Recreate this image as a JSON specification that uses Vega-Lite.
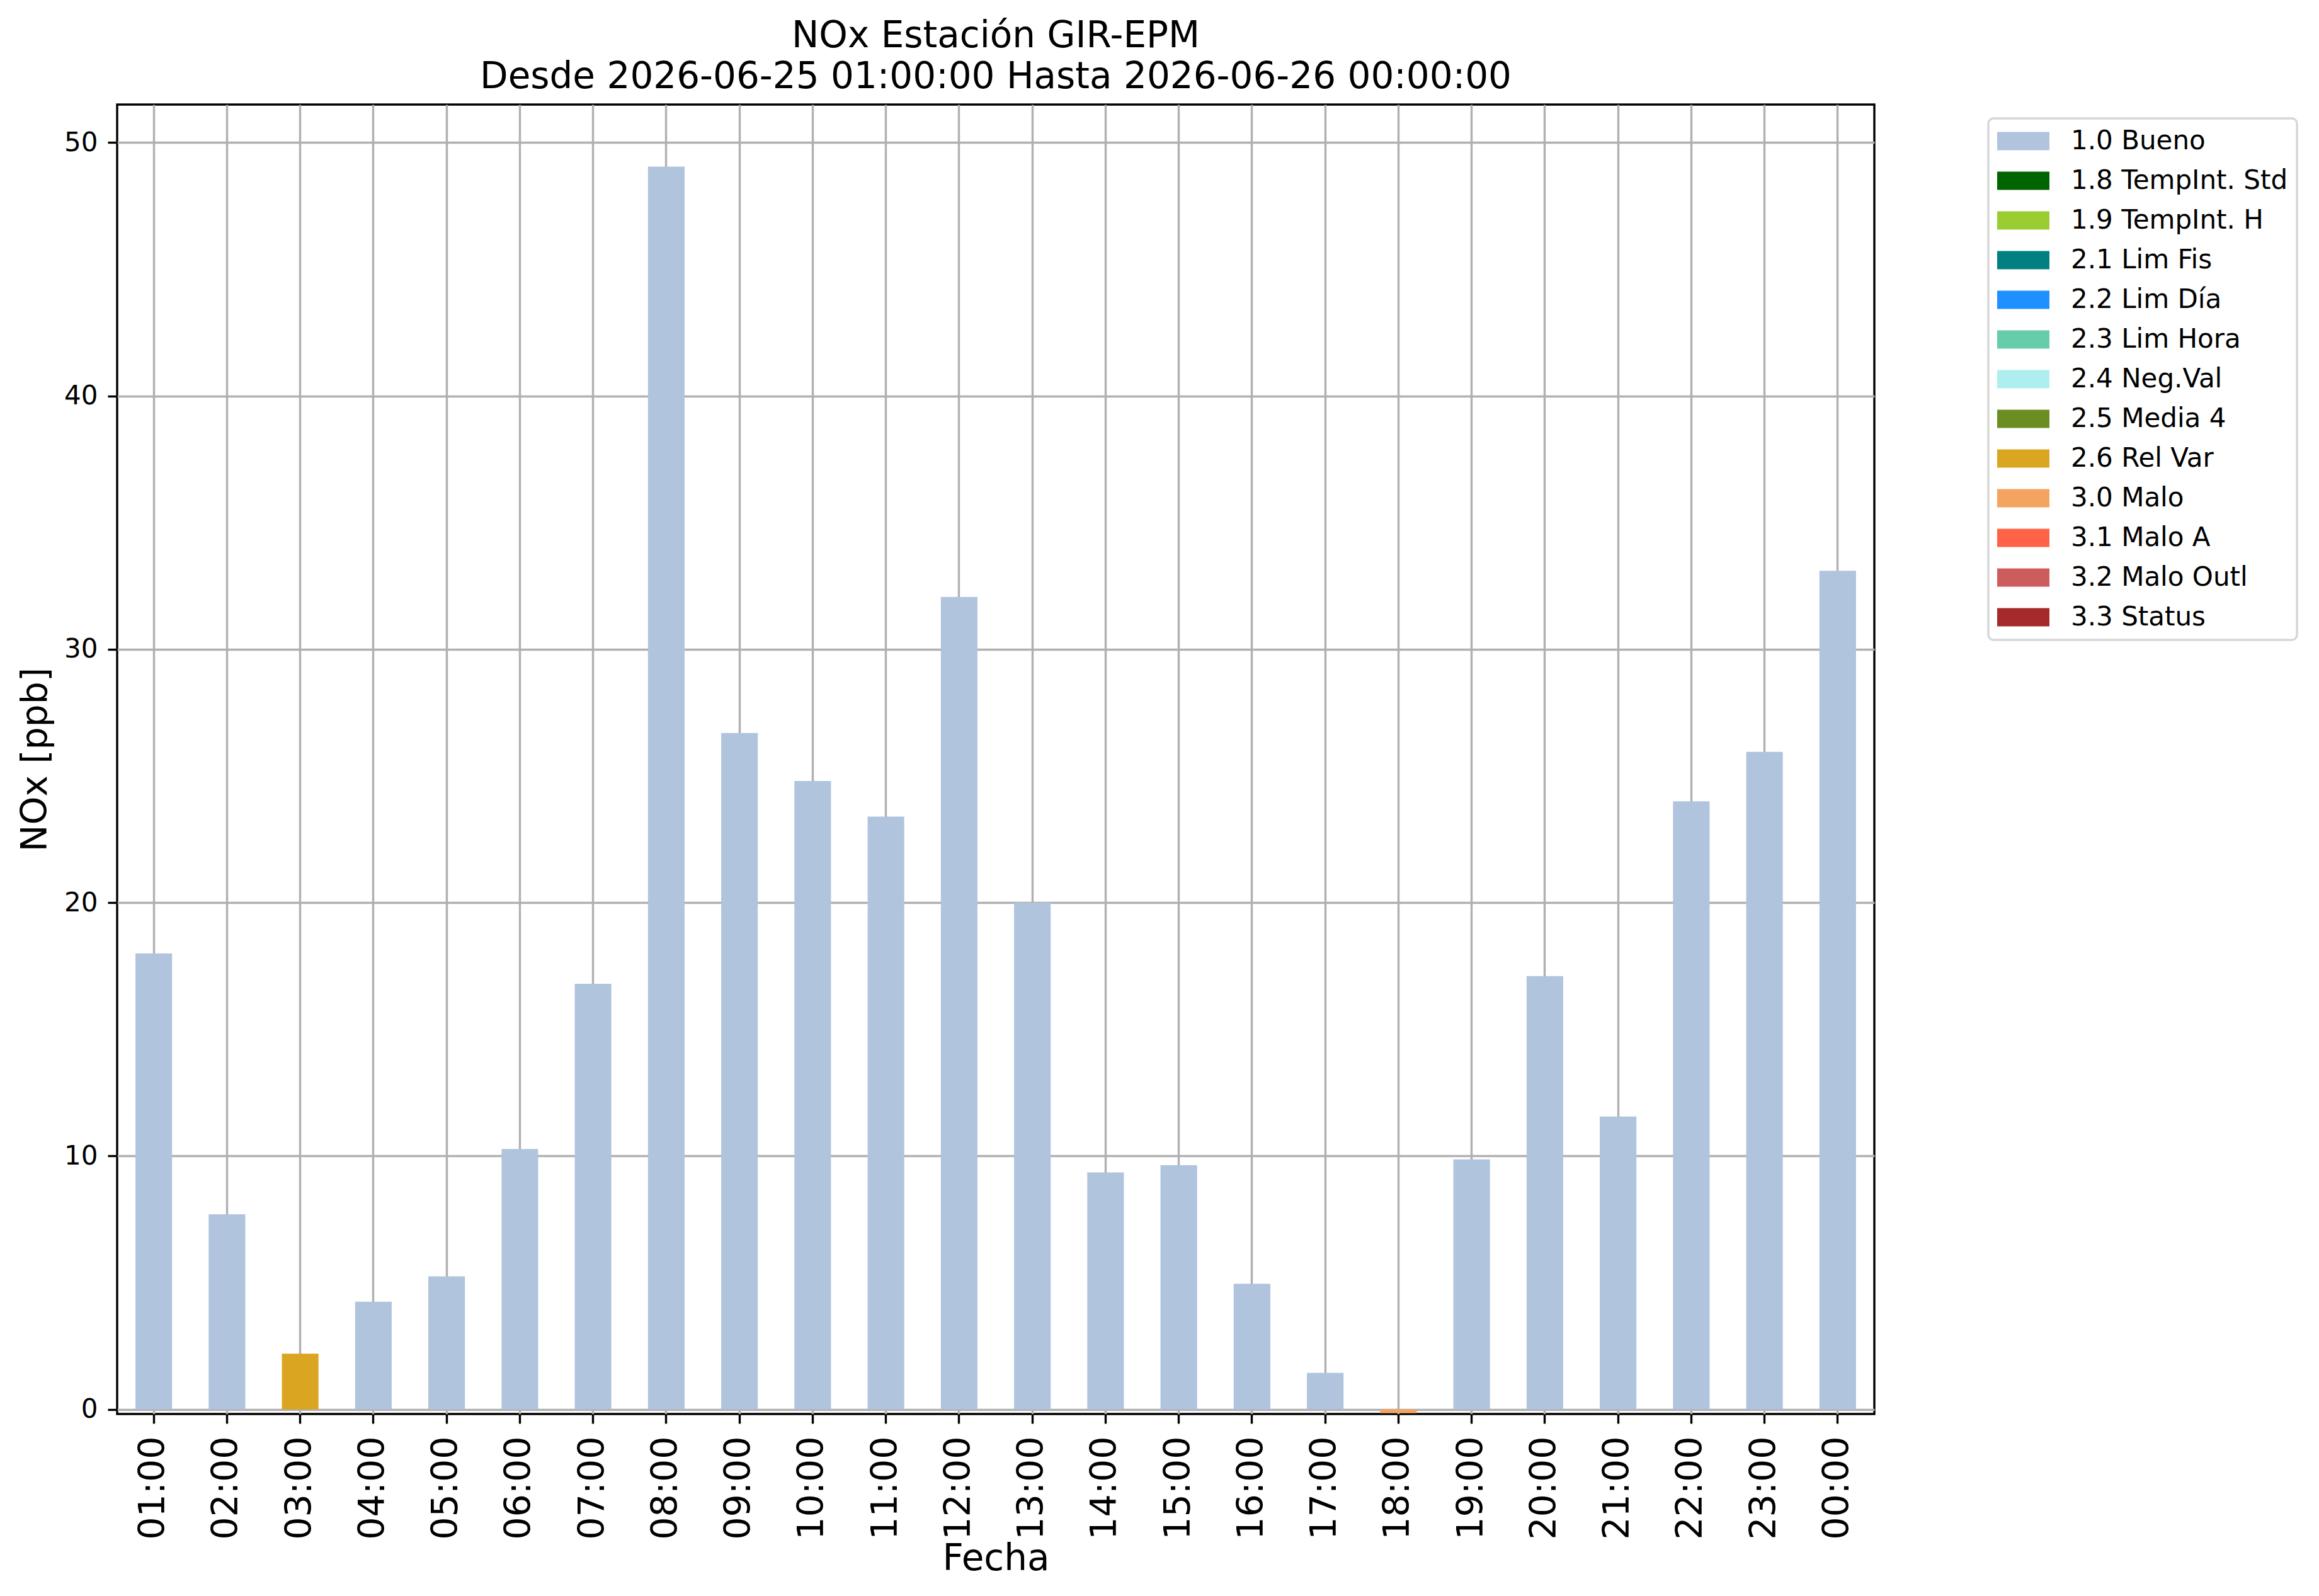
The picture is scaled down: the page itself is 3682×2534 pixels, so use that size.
{
  "$schema": "https://vega.github.io/schema/vega-lite/v6.json",
  "autosize": {"type": "none"},
  "width": 2790,
  "height": 2079,
  "padding": {"left": 186, "top": 166, "right": 706, "bottom": 289},
  "background": "white",
  "title": {
    "text": ["NOx Estación GIR-EPM", "Desde 2026-06-25 01:00:00 Hasta 2026-06-26 00:00:00"],
    "font": "DejaVu Sans",
    "fontSize": 58,
    "fontWeight": "normal",
    "color": "black",
    "lineHeight": 65,
    "offset": 14,
    "anchor": "middle",
    "frame": "group"
  },
  "data": {
    "values": [
      {"hora": "01:00", "nox": 18.0, "flag": "1.0 Bueno"},
      {"hora": "02:00", "nox": 7.7, "flag": "1.0 Bueno"},
      {"hora": "03:00", "nox": 2.2, "flag": "2.6 Rel Var"},
      {"hora": "04:00", "nox": 4.25, "flag": "1.0 Bueno"},
      {"hora": "05:00", "nox": 5.25, "flag": "1.0 Bueno"},
      {"hora": "06:00", "nox": 10.28, "flag": "1.0 Bueno"},
      {"hora": "07:00", "nox": 16.8, "flag": "1.0 Bueno"},
      {"hora": "08:00", "nox": 49.05, "flag": "1.0 Bueno"},
      {"hora": "09:00", "nox": 26.7, "flag": "1.0 Bueno"},
      {"hora": "10:00", "nox": 24.8, "flag": "1.0 Bueno"},
      {"hora": "11:00", "nox": 23.4, "flag": "1.0 Bueno"},
      {"hora": "12:00", "nox": 32.07, "flag": "1.0 Bueno"},
      {"hora": "13:00", "nox": 20.0, "flag": "1.0 Bueno"},
      {"hora": "14:00", "nox": 9.35, "flag": "1.0 Bueno"},
      {"hora": "15:00", "nox": 9.64, "flag": "1.0 Bueno"},
      {"hora": "16:00", "nox": 4.96, "flag": "1.0 Bueno"},
      {"hora": "17:00", "nox": 1.44, "flag": "1.0 Bueno"},
      {"hora": "18:00", "nox": -0.15, "flag": "3.0 Malo"},
      {"hora": "19:00", "nox": 9.87, "flag": "1.0 Bueno"},
      {"hora": "20:00", "nox": 17.1, "flag": "1.0 Bueno"},
      {"hora": "21:00", "nox": 11.56, "flag": "1.0 Bueno"},
      {"hora": "22:00", "nox": 24.0, "flag": "1.0 Bueno"},
      {"hora": "23:00", "nox": 25.95, "flag": "1.0 Bueno"},
      {"hora": "00:00", "nox": 33.1, "flag": "1.0 Bueno"}
    ]
  },
  "mark": {"type": "bar"},
  "encoding": {
    "x": {
      "field": "hora",
      "type": "ordinal",
      "sort": null,
      "title": "Fecha",
      "scale": {"paddingInner": 0.5, "paddingOuter": 0.25},
      "axis": {
        "grid": true,
        "bandPosition": 0.5,
        "labelAngle": -90,
        "labelAlign": "right",
        "labelBaseline": "middle",
        "labelFontSize": 57,
        "labelPadding": 20,
        "titleFontSize": 58,
        "titleBaseline": "alphabetic",
        "titleY": 247
      }
    },
    "y": {
      "field": "nox",
      "type": "quantitative",
      "title": "NOx [ppb]",
      "scale": {"domain": [-0.18, 51.5], "nice": false, "zero": false},
      "axis": {
        "values": [0, 10, 20, 30, 40, 50],
        "format": "d",
        "labelFontSize": 42,
        "labelPadding": 16,
        "titleFontSize": 57,
        "titleAngle": -90,
        "titleBaseline": "alphabetic",
        "titleX": -113,
        "titleY": 1039.5
      }
    },
    "color": {
      "field": "flag",
      "type": "nominal",
      "scale": {
        "domain": ["1.0 Bueno", "1.8 TempInt. Std", "1.9 TempInt. H", "2.1 Lim Fis", "2.2 Lim Día", "2.3 Lim Hora", "2.4 Neg.Val", "2.5 Media 4", "2.6 Rel Var", "3.0 Malo", "3.1 Malo A", "3.2 Malo Outl", "3.3 Status"],
        "range": ["#b0c4de", "#006400", "#9acd32", "#008080", "#1e90ff", "#66cdaa", "#afeeee", "#6b8e23", "#daa520", "#f4a460", "#ff6347", "#cd5c5c", "#a52a2a"]
      },
      "legend": {
        "title": null,
        "orient": "none",
        "legendX": 2971,
        "legendY": 22,
        "symbolType": "M-1,-0.35H1V0.35H-1Z",
        "symbolSize": 6889,
        "symbolStrokeWidth": 0,
        "labelFontSize": 42,
        "labelFont": "DejaVu Sans",
        "labelColor": "black",
        "labelLimit": 1000,
        "labelOffset": 34,
        "clipHeight": 44,
        "rowPadding": 19,
        "padding": 14,
        "strokeColor": "#d6d6d6",
        "cornerRadius": 8,
        "fillColor": "white"
      }
    }
  },
  "config": {
    "font": "DejaVu Sans",
    "view": {"stroke": "black", "strokeWidth": 3.4},
    "legend": {"strokeWidth": 3.4},
    "axis": {
      "domain": false,
      "zindex": 1,
      "gridColor": "#b0b0b0",
      "gridWidth": 3.4,
      "gridOpacity": 1,
      "tickColor": "black",
      "tickWidth": 3.4,
      "tickSize": 15,
      "labelColor": "black",
      "labelFont": "DejaVu Sans",
      "titleColor": "black",
      "titleFont": "DejaVu Sans",
      "titleFontWeight": "normal",
      "labelOverlap": false
    }
  }
}
